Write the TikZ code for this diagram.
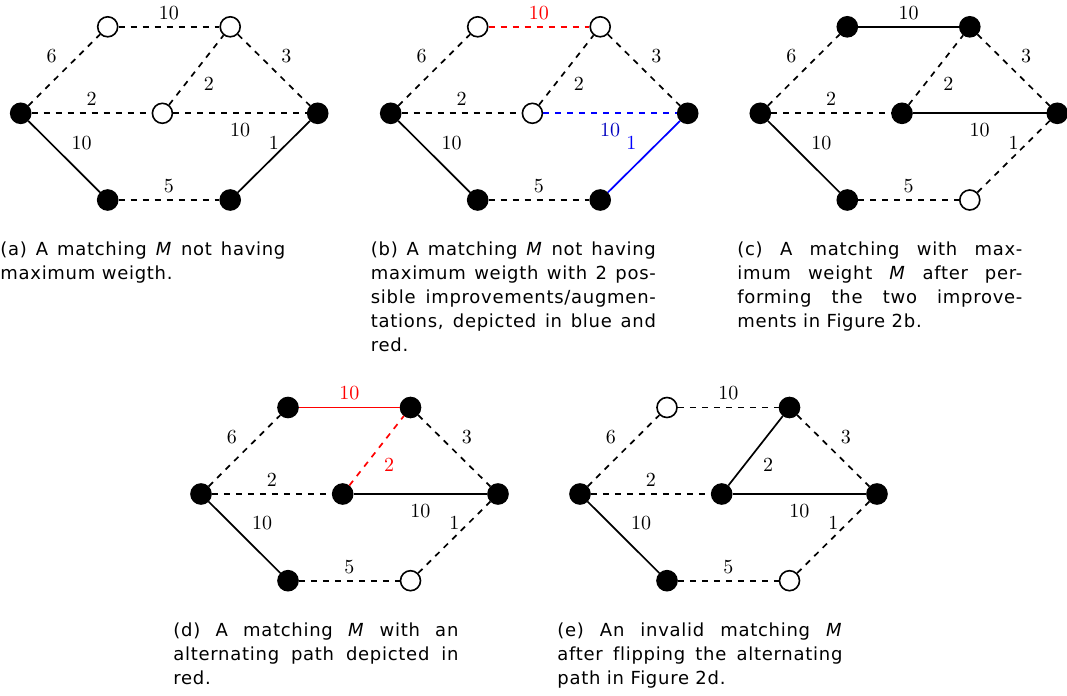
\documentclass[tikz,border=0pt]{standalone}
\usepackage{fontspec}
\newfontfamily\capfont{DejaVu Sans}[Ligatures={NoCommon}, LetterSpace=4]
\hbadness=10000

% Seven vertices of the weighted graph, placed relative to the left vertex.
\newcommand\hexnodes[8]{%
  \node[#2] (#1L)  at (0,0)          {};
  \node[#3] (#1TL) at (87,-86.5)     {};
  \node[#4] (#1TR) at (209.5,-86.5)  {};
  \node[#5] (#1M)  at (141.7,0)      {};
  \node[#6] (#1R)  at (297,0)        {};
  \node[#7] (#1BL) at (87,86.7)      {};
  \node[#8] (#1BR) at (209.5,86.7)   {};
}

\tikzset{
  vx/.style={circle, draw=black, line width=0.8pt, minimum size=10pt, inner sep=0pt},
  full/.style={vx, fill=black},
  free/.style={vx, fill=white},
  nonm/.style={line width=0.85pt, dashed},
  inm/.style={line width=0.85pt},
  wt/.style={inner sep=3.33pt, font=\normalsize},
  wtlow/.style={wt, below, yshift=-1.5pt},
  captext/.style={anchor=base west, inner sep=0pt,
    font=\capfont\fontsize{9pt}{12pt}\selectfont},
}
\newcommand\capbox[1]{\parbox[t]{142.5pt}{#1}}

\begin{document}
\begin{tikzpicture}[x=0.5pt, y=-0.5pt]
\useasboundingbox (0,0) rectangle (1067,696);

% (a) initial matching
\begin{scope}[shift={(20.7,113.3)}]
  \hexnodes{a}{full}{free}{free}{free}{full}{full}{full}
  \draw[nonm] (aL)  -- node[wt, above left]{$6$}   (aTL);
  \draw[nonm] (aTL) -- node[wt, above]{$10$}       (aTR);
  \draw[nonm] (aTR) -- node[wt, above right]{$3$}  (aR);
  \draw[nonm] (aL)  -- node[wt, above]{$2$}        (aM);
  \draw[nonm] (aM)  -- node[wt, below right]{$2$}  (aTR);
  \draw[nonm] (aM)  -- node[wtlow]{$10$}           (aR);
  \draw[inm]  (aL)  -- node[wt, above right]{$10$} (aBL);
  \draw[nonm] (aBL) -- node[wt, above]{$5$}        (aBR);
  \draw[inm]  (aBR) -- node[wt, above]{$1$}        (aR);
\end{scope}

% (b) two augmentations highlighted
\begin{scope}[shift={(390.7,113.3)}]
  \hexnodes{b}{full}{free}{free}{free}{full}{full}{full}
  \draw[nonm] (bL)  -- node[wt, above left]{$6$}   (bTL);
  \draw[nonm, red] (bTL) -- node[wt, above, text=red]{$10$} (bTR);
  \draw[nonm] (bTR) -- node[wt, above right]{$3$}  (bR);
  \draw[nonm] (bL)  -- node[wt, above]{$2$}        (bM);
  \draw[nonm] (bM)  -- node[wt, below right]{$2$}  (bTR);
  \draw[nonm, blue] (bM) -- node[wtlow, text=blue!75!black]{$10$} (bR);
  \draw[inm]  (bL)  -- node[wt, above right]{$10$} (bBL);
  \draw[nonm] (bBL) -- node[wt, above]{$5$}        (bBR);
  \draw[inm, blue] (bBR) -- node[wt, above left, text=blue]{$1$} (bR);
\end{scope}

% (c) maximum weight matching
\begin{scope}[shift={(760.3,113.3)}]
  \hexnodes{c}{full}{full}{full}{full}{full}{full}{free}
  \draw[nonm] (cL)  -- node[wt, above left]{$6$}   (cTL);
  \draw[inm]  (cTL) -- node[wt, above]{$10$}       (cTR);
  \draw[nonm] (cTR) -- node[wt, above right]{$3$}  (cR);
  \draw[nonm] (cL)  -- node[wt, above]{$2$}        (cM);
  \draw[nonm] (cM)  -- node[wt, below right]{$2$}  (cTR);
  \draw[inm]  (cM)  -- node[wtlow]{$10$}           (cR);
  \draw[inm]  (cL)  -- node[wt, above right]{$10$} (cBL);
  \draw[nonm] (cBL) -- node[wt, above]{$5$}        (cBR);
  \draw[nonm] (cBR) -- node[wt, above]{$1$}        (cR);
\end{scope}

% (d) alternating path in red
\begin{scope}[shift={(201,494)}]
  \hexnodes{d}{full}{full}{full}{full}{full}{full}{free}
  \draw[nonm] (dL)  -- node[wt, above left]{$6$}   (dTL);
  \draw[inm, red] (dTL) -- node[wt, above, text=red]{$10$} (dTR);
  \draw[nonm] (dTR) -- node[wt, above right]{$3$}  (dR);
  \draw[nonm] (dL)  -- node[wt, above]{$2$}        (dM);
  \draw[nonm, red] (dM) -- node[wt, below right, text=red]{$2$} (dTR);
  \draw[inm]  (dM)  -- node[wtlow]{$10$}           (dR);
  \draw[inm]  (dL)  -- node[wt, above right]{$10$} (dBL);
  \draw[nonm] (dBL) -- node[wt, above]{$5$}        (dBR);
  \draw[nonm] (dBR) -- node[wt, above]{$1$}        (dR);
\end{scope}

% (e) after flipping the path
\begin{scope}[shift={(580,494)}]
  \hexnodes{e}{full}{free}{full}{full}{full}{full}{free}
  \draw[nonm] (eL)  -- node[wt, above left]{$6$}   (eTL);
  \draw[nonm] (eTL) -- node[wt, above]{$10$}       (eTR);
  \draw[nonm] (eTR) -- node[wt, above right]{$3$}  (eR);
  \draw[nonm] (eL)  -- node[wt, above]{$2$}        (eM);
  \draw[inm]  (eM)  -- node[wt, below right]{$2$}  (eTR);
  \draw[inm]  (eM)  -- node[wtlow]{$10$}           (eR);
  \draw[inm]  (eL)  -- node[wt, above right]{$10$} (eBL);
  \draw[nonm] (eBL) -- node[wt, above]{$5$}        (eBR);
  \draw[nonm] (eBR) -- node[wt, above]{$1$}        (eR);
\end{scope}

% captions
\node[captext] (capa) at (0,255.5) {\capbox{(a) A matching \textit{M} not having\linebreak
  maximum weigth.}};
\node[captext] (capb) at (370.5,255.5) {\capbox{(b) A matching \textit{M} not having\linebreak
  maximum weigth with 2 pos-\linebreak sible improvements/augmen-\linebreak
  tations, depicted in blue and\linebreak red.}};
\node[captext] (capc) at (737,255.5) {\capbox{(c) A matching with max-\linebreak
  imum weight \textit{M} after per-\linebreak forming the two improve-\linebreak
  ments in Figure 2b.}};
\node[captext] (capd) at (173,636.5) {\capbox{(d) A matching \textit{M} with an\linebreak
  alternating path depicted in\linebreak red.}};
\node[captext] (cape) at (557,636.5) {\capbox{(e) An invalid matching \textit{M}\linebreak
  after flipping the alternating\linebreak path in Figure 2d.}};
\end{tikzpicture}
\end{document}
